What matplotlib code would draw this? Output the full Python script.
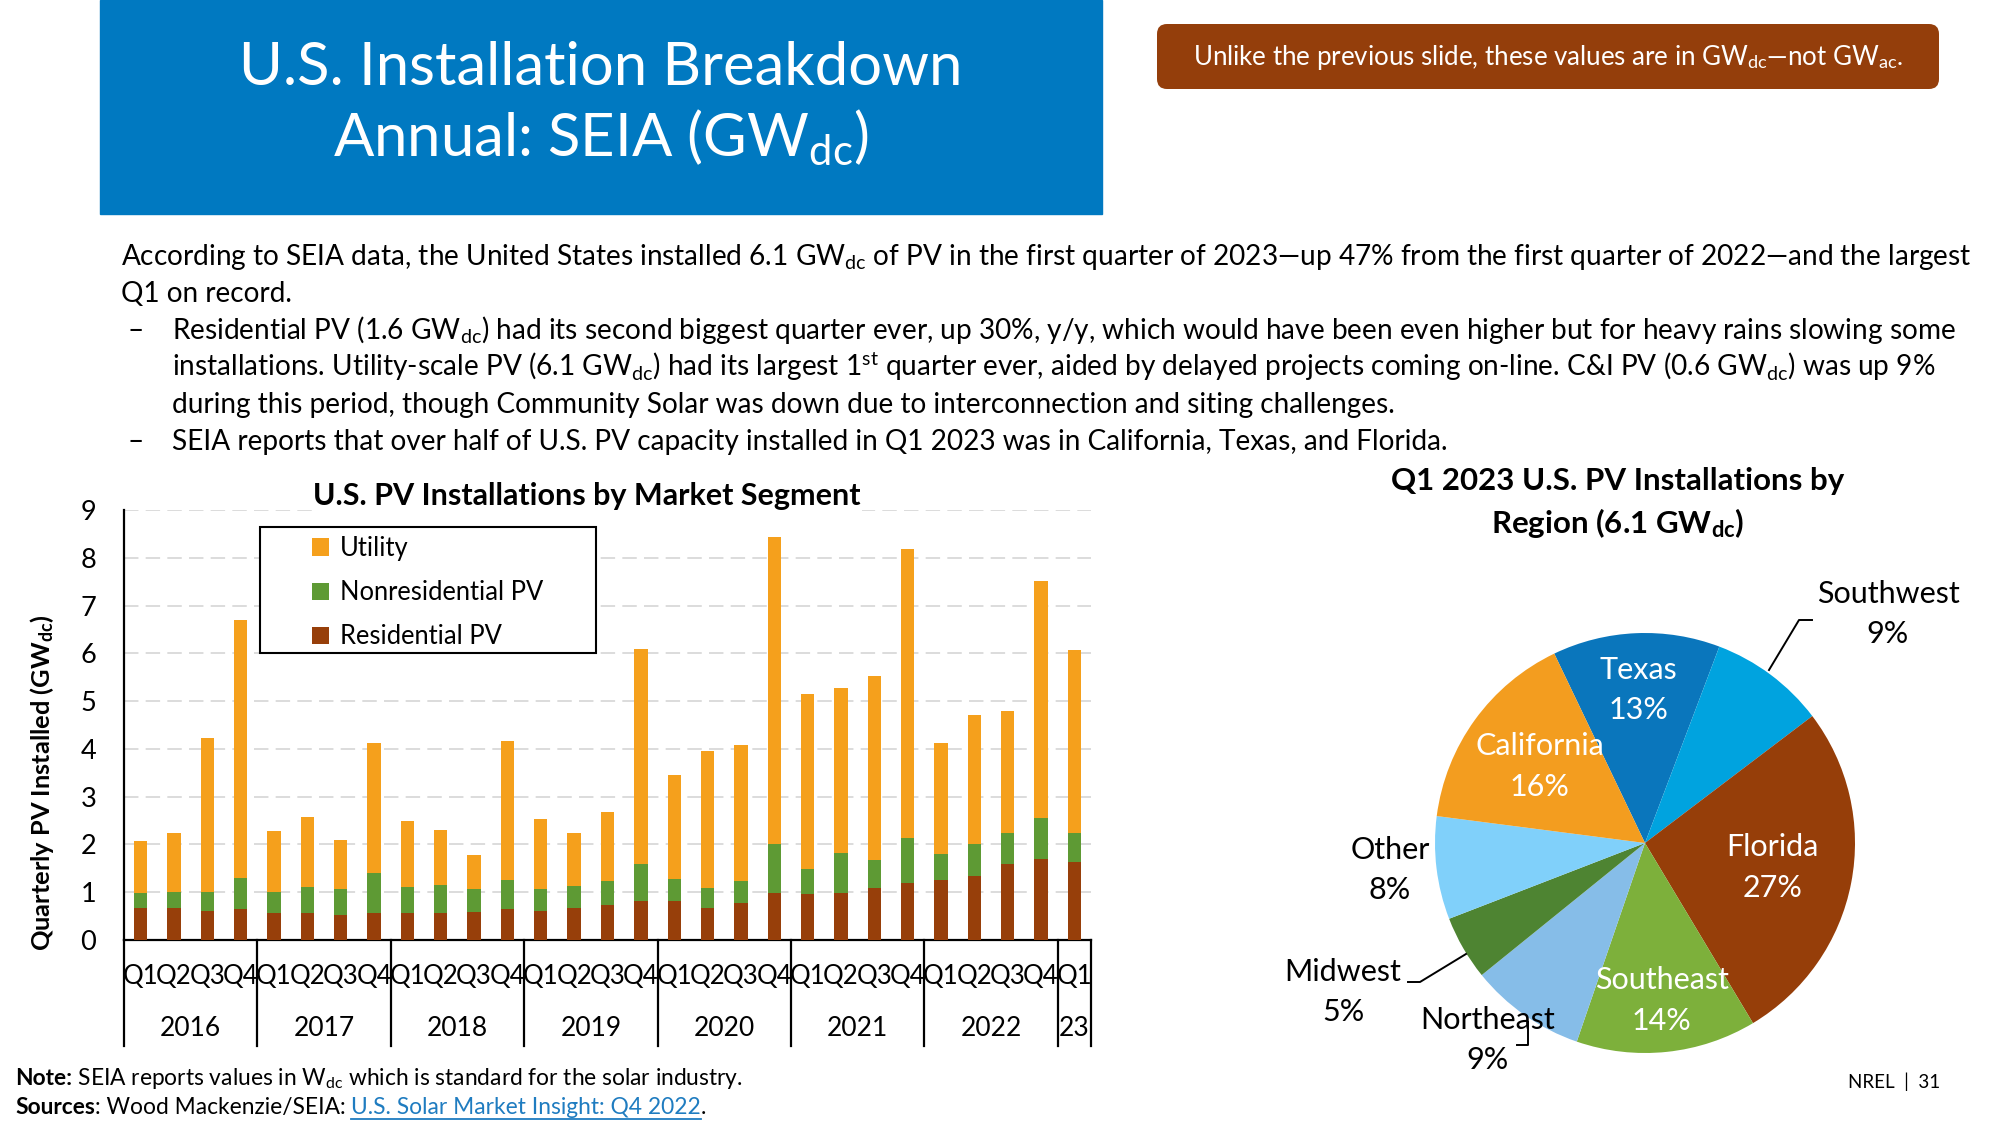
import numpy as np
import matplotlib
matplotlib.use('Agg')
import matplotlib.pyplot as plt
from matplotlib.patches import Rectangle, FancyBboxPatch
from matplotlib.transforms import blended_transform_factory

plt.rcParams['font.family'] = ['Lato', 'DejaVu Sans']
plt.rcParams['mathtext.fontset'] = 'custom'
plt.rcParams['mathtext.rm'] = 'Lato'
plt.rcParams['mathtext.it'] = 'Lato:italic'
plt.rcParams['mathtext.bf'] = 'Lato:bold'

# quarterly installs by segment (GWdc), Q1 2016 .. Q1 2023
quarters = ['Q1', 'Q2', 'Q3', 'Q4'] * 7 + ['Q1']
years = ['2016', '2017', '2018', '2019', '2020', '2021', '2022', '23']
year_sizes = [4, 4, 4, 4, 4, 4, 4, 1]
residential = [0.68, 0.66, 0.60, 0.64, 0.56, 0.57, 0.52, 0.56,
               0.56, 0.57, 0.59, 0.64, 0.61, 0.66, 0.73, 0.82,
               0.81, 0.66, 0.77, 0.98, 0.96, 0.98, 1.09, 1.19,
               1.26, 1.35, 1.60, 1.69, 1.63]
nonresidential = [0.31, 0.35, 0.41, 0.65, 0.45, 0.53, 0.54, 0.84,
                  0.54, 0.58, 0.47, 0.61, 0.45, 0.46, 0.50, 0.77,
                  0.46, 0.43, 0.46, 1.02, 0.52, 0.85, 0.58, 0.94,
                  0.55, 0.65, 0.63, 0.86, 0.60]
utility = [1.08, 1.22, 3.21, 5.41, 1.27, 1.48, 1.03, 2.73,
           1.39, 1.16, 0.71, 2.91, 1.47, 1.11, 1.45, 4.51,
           2.18, 2.86, 2.86, 6.44, 3.67, 3.44, 3.85, 6.05,
           2.31, 2.71, 2.57, 4.96, 3.85]

# Q1 2023 share by region (%)
regions = ['Texas', 'Southwest', 'Florida', 'Southeast', 'Northeast', 'Midwest', 'Other', 'California']
shares = [13, 9, 27, 14, 9, 5, 8, 16]

C_UTIL = '#F5A01C'
C_NON = '#5E9A34'
C_RES = '#973F0A'
pie_colors = ['#0A76BC', '#00A3DF', '#963E09', '#7DB03B', '#86BDE8', '#4E8432', '#80D0FA', '#F39D1F']

W, H = 2000, 1125
fig = plt.figure(figsize=(20, 11.25), dpi=100)


def frac(x0, y0, x1, y1):
    return [x0 / W, 1 - y1 / H, (x1 - x0) / W, (y1 - y0) / H]


# overlay axes in pixel units for slide furniture (drawn on top, no background)
bg = fig.add_axes([0, 0, 1, 1])
bg.set_xlim(0, W)
bg.set_ylim(H, 0)
bg.axis('off')
bg.set_zorder(5)

# header
bg.add_patch(Rectangle((100, 0), 1002, 214, color='#0079C1', zorder=0))
bg.text(601, 68, 'U.S. Installation Breakdown', color='white', fontsize=43,
        ha='center', va='center')
bg.text(601, 138, r'Annual: SEIA (GW$_{\mathrm{dc}}$)', color='white', fontsize=43,
        ha='center', va='center')

bg.add_patch(FancyBboxPatch((1157, 24), 782, 65, boxstyle='round,pad=0,rounding_size=10',
                            fc='#943E0B', ec='none'))
bg.text(1548, 57, r'Unlike the previous slide, these values are in GW$_{\mathrm{dc}}$—not GW$_{\mathrm{ac}}$.',
        color='white', fontsize=18.6, ha='center', va='center')

# body text
body = [
    (121, 265, r'According to SEIA data, the United States installed 6.1 GW$_{\mathrm{dc}}$ of PV in the first quarter of 2023—up 47% from the first quarter of 2022—and the largest'),
    (121, 302, 'Q1 on record.'),
    (172, 339, r'Residential PV (1.6 GW$_{\mathrm{dc}}$) had its second biggest quarter ever, up 30%, y/y, which would have been even higher but for heavy rains slowing some'),
    (172, 376, r'installations. Utility-scale PV (6.1 GW$_{\mathrm{dc}}$) had its largest 1$^{\mathrm{st}}$ quarter ever, aided by delayed projects coming on-line. C&I PV (0.6 GW$_{\mathrm{dc}}$) was up 9%'),
    (172, 413, 'during this period, though Community Solar was down due to interconnection and siting challenges.'),
    (172, 450, 'SEIA reports that over half of U.S. PV capacity installed in Q1 2023 was in California, Texas, and Florida.'),
]
for bx, by, s in body:
    bg.text(bx, by, s, fontsize=20.2, va='baseline', ha='left')
for by in (339, 450):
    bg.text(128, by, '–', fontsize=20.2, va='baseline', ha='left')

# ---- stacked bar chart ----
ax = fig.add_axes(frac(124, 510, 1091, 940))
ax.patch.set_alpha(0)
x = np.arange(len(quarters))
res = np.array(residential)
non = np.array(nonresidential)
uti = np.array(utility)
b_res = ax.bar(x, res, width=0.4, color=C_RES, label='Residential PV', zorder=3)
b_non = ax.bar(x, non, bottom=res, width=0.4, color=C_NON, label='Nonresidential PV', zorder=3)
b_uti = ax.bar(x, uti, bottom=res + non, width=0.4, color=C_UTIL, label='Utility', zorder=3)
ax.set_xlim(-0.5, len(quarters) - 0.5)
ax.set_ylim(0, 9)
ax.set_yticks(range(10))
ax.yaxis.grid(True, color='#D9D9D9', lw=1.3, linestyle=(0, (8, 4)), zorder=0)
ax.set_axisbelow(True)
ax.set_xticks([])
ax.tick_params(axis='y', length=0, pad=20, labelsize=19.5)
for s in ('top', 'right'):
    ax.spines[s].set_visible(False)
for s in ('left', 'bottom'):
    ax.spines[s].set_linewidth(1.6)

tr = blended_transform_factory(ax.transData, ax.transAxes)
for i, q in enumerate(quarters):
    ax.text(i, -0.086, q, transform=tr, ha='center', va='center', fontsize=18.5)
edges = np.concatenate([[0], np.cumsum(year_sizes)]) - 0.5
for e in edges:
    ax.plot([e, e], [0, -0.2465], transform=tr, color='black', lw=1.6, clip_on=False)
for yl, a, b in zip(years, edges[:-1], edges[1:]):
    ax.text((a + b) / 2, -0.205, yl, transform=tr, ha='center', va='center', fontsize=19)

# legend box with white fill
ax.add_patch(Rectangle(((260 - 124) / 967, (940 - 653) / 430), 336 / 967, 126 / 430,
                       transform=ax.transAxes, fc='white', ec='black', lw=1.5,
                       zorder=4, clip_on=False))
leg = ax.legend(handles=[b_uti, b_non, b_res], loc='upper left',
                bbox_to_anchor=((312 - 124) / 967, (940 - 536) / 430),
                frameon=False, fontsize=18.4, handlelength=0.65, handleheight=0.65,
                handletextpad=0.45, labelspacing=0.75, borderpad=0, borderaxespad=0)
leg.set_zorder(5)

bg.text(587, 496, 'U.S. PV Installations by Market Segment', fontsize=22, fontweight='bold',
        ha='center', va='center',
        bbox=dict(fc='white', ec='none', pad=1))
bg.text(42, 783, r'Quarterly PV Installed (GW$_{\mathbf{dc}}$)', fontsize=18.3, fontweight='bold',
        rotation=90, ha='center', va='center')

# ---- pie chart ----
pax = fig.add_axes(frac(1435, 633, 1855, 1053))
wedges, _ = pax.pie(shares, colors=pie_colors, startangle=115.6, counterclock=False,
                    radius=1, wedgeprops=dict(linewidth=0))
pax.set_xlim(-1, 1)
pax.set_ylim(-1, 1)
pax.set_aspect('equal')
pax.axis('off')

inner_r = {'Texas': 0.73, 'California': 0.62, 'Florida': 0.62, 'Southeast': 0.755}
for w, name, pct in zip(wedges, regions, shares):
    if name in inner_r:
        ang = np.deg2rad((w.theta1 + w.theta2) / 2)
        r = inner_r[name]
        pax.text(r * np.cos(ang), r * np.sin(ang), f'{name}\n{pct}%', color='white',
                 fontsize=22, ha='center', va='center', linespacing=1.55)

outer_pos = {'Southwest': (1888, 614), 'Other': (1390, 870),
             'Midwest': (1343, 992), 'Northeast': (1488, 1040)}
for name, pct in zip(regions, shares):
    if name in outer_pos:
        px, py = outer_pos[name]
        bg.text(px, py, f'{name}\n{pct}%', fontsize=22, ha='center', va='center',
                linespacing=1.55)

# leader lines
bg.plot([1769, 1799, 1812], [670, 620, 620], color='black', lw=1.4)
bg.plot([1408, 1420, 1466], [982, 982, 954], color='black', lw=1.4)
bg.plot([1528, 1528, 1517], [1022, 1045, 1045], color='black', lw=1.4)

bg.text(1618, 481, 'Q1 2023 U.S. PV Installations by', fontsize=22.5, fontweight='bold',
        ha='center', va='center')
bg.text(1618, 523, r'Region (6.1 GW$_{\mathbf{dc}}$)', fontsize=22.5, fontweight='bold',
        ha='center', va='center')

# ---- footer ----
renderer = fig.canvas.get_renderer()


def chain(x0, y0, parts):
    xx = x0
    out = []
    for s, kw in parts:
        t = bg.text(xx, y0, s, va='baseline', ha='left', fontsize=16.4, **kw)
        bb = t.get_window_extent(renderer=renderer)
        out.append((t, xx, bb.width))
        xx += bb.width
    return out


chain(15, 1085, [('Note:', dict(fontweight='bold')),
                 (r' SEIA reports values in W$_{\mathrm{dc}}$ which is standard for the solar industry.', {})])
parts = chain(15, 1114, [('Sources', dict(fontweight='bold')),
                         (': Wood Mackenzie/SEIA: ', {}),
                         ('U.S. Solar Market Insight: Q4 2022', dict(color='#1F7CC0')),
                         ('.', {})])
lt, lx, lw_ = parts[2]
bg.plot([lx, lx + lw_], [1119, 1119], color='#1F7CC0', lw=1.3)

bg.text(1848, 1082, 'NREL  |  31', fontsize=13.5, ha='left', va='center')

fig.savefig('out.png', dpi=100)
